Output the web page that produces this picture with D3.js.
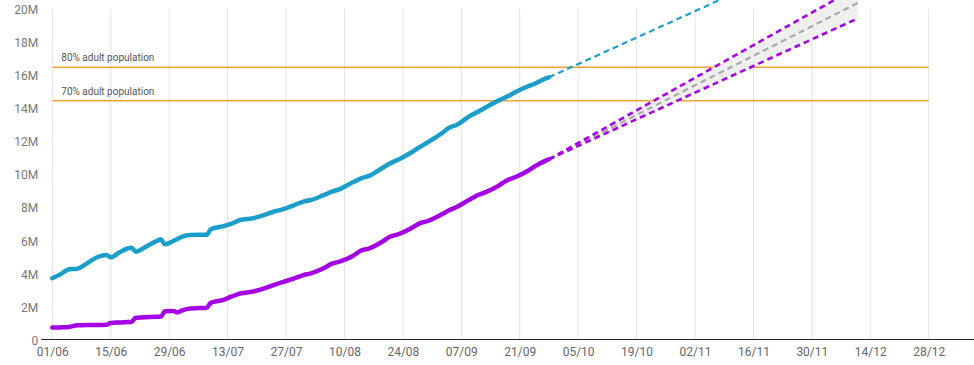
<!DOCTYPE html>
<html>
<head>
<meta charset="utf-8">
<script src="https://cdn.jsdelivr.net/npm/d3@7"></script>
<style>
  html, body { margin: 0; padding: 0; background: #fff; }
  svg { display: block; font-family: Roboto, "Noto Sans", sans-serif; }
</style>
</head>
<body>
<div id="chart"></div>
<script>
// days counted from the first date
const startDate = '2021-06-01';
const dayOffsets = [0, 2, 4, 6, 8, 11, 13, 14, 16, 18, 19, 20, 22, 25, 26, 27, 29, 30, 31, 33,
  35, 37, 38, 41, 43, 45, 48, 51, 53, 55, 58, 60, 62, 65, 67, 69, 72, 74, 76, 79,
  81, 83, 86, 88, 90, 93, 95, 97, 100, 102, 104, 107, 109, 111, 114, 116, 118, 119];

// millions of people
const firstDose = [3.70, 3.95, 4.25, 4.28, 4.55, 5.00, 5.10, 4.97, 5.25, 5.50, 5.55, 5.30, 5.55, 5.95, 6.05, 5.75, 5.95, 6.08, 6.20, 6.32,
  6.33, 6.33, 6.66, 6.85, 7.00, 7.22, 7.32, 7.55, 7.72, 7.85, 8.12, 8.32, 8.43, 8.72, 8.93, 9.10, 9.50, 9.74, 9.90, 10.35,
  10.65, 10.88, 11.30, 11.62, 11.92, 12.40, 12.78, 12.98, 13.50, 13.76, 14.05, 14.45, 14.68, 14.95, 15.30, 15.50, 15.75, 15.84];
const secondDose = [0.72, 0.73, 0.76, 0.86, 0.87, 0.88, 0.89, 1.00, 1.03, 1.05, 1.06, 1.32, 1.34, 1.37, 1.38, 1.70, 1.72, 1.64, 1.75, 1.88,
  1.90, 1.92, 2.22, 2.40, 2.60, 2.78, 2.89, 3.10, 3.28, 3.45, 3.70, 3.88, 4.00, 4.30, 4.58, 4.72, 5.05, 5.38, 5.51, 5.90,
  6.22, 6.37, 6.72, 7.02, 7.16, 7.52, 7.80, 8.02, 8.45, 8.73, 8.92, 9.30, 9.62, 9.82, 10.20, 10.52, 10.78, 10.89];

// projections run from the last reading to this date
const projEndDate = '2021-12-11';
const firstDoseProjEnd = 24.3;
const secondDoseProjEnd = { high: 21.3, mid: 20.33, low: 19.4 };

const targets = [
  { label: '80% adult population', value: 16.45 },
  { label: '70% adult population', value: 14.43 },
];

const xTicks = ['2021-06-01', '2021-06-15', '2021-06-29', '2021-07-13', '2021-07-27', '2021-08-10',
  '2021-08-24', '2021-09-07', '2021-09-21', '2021-10-05', '2021-10-19', '2021-11-02',
  '2021-11-16', '2021-11-30', '2021-12-14', '2021-12-28'];
const yTicks = [0, 2, 4, 6, 8, 10, 12, 14, 16, 18, 20];

const width = 974;
const height = 365;
const margin = { left: 52.3, top: 8.5, right: 45.3, bottom: 25.5 };
const blue = '#1b9fca';
const purple = '#a404e4';
const orange = '#f2a23c';

const parse = d3.utcParse('%Y-%m-%d');
const start = parse(startDate);
const dates = dayOffsets.map(d => d3.utcDay.offset(start, d));
const first = dates.map((d, i) => ({ date: d, value: firstDose[i] }));
const second = dates.map((d, i) => ({ date: d, value: secondDose[i] }));
const lastDate = dates[dates.length - 1];
const endDate = parse(projEndDate);

const x = d3.scaleUtc()
  .domain([parse(xTicks[0]), parse(xTicks[xTicks.length - 1])])
  .range([margin.left, width - margin.right]);
const y = d3.scaleLinear()
  .domain([0, 20])
  .range([height - margin.bottom, margin.top]);

const svg = d3.select('#chart')
  .append('svg')
  .attr('width', width)
  .attr('height', height);

// vertical grid
svg.append('g')
  .selectAll('line')
  .data(xTicks)
  .join('line')
  .attr('x1', d => x(parse(d)))
  .attr('x2', d => x(parse(d)))
  .attr('y1', y(20))
  .attr('y2', y(0))
  .attr('stroke', '#e3e3e3')
  .attr('stroke-width', 1);

// target lines
const tg = svg.append('g')
  .selectAll('g')
  .data(targets)
  .join('g');

tg.append('line')
  .attr('x1', x.range()[0])
  .attr('x2', x.range()[1])
  .attr('y1', d => y(d.value))
  .attr('y2', d => y(d.value))
  .attr('stroke', orange)
  .attr('stroke-width', 1.4);

tg.append('text')
  .attr('x', x.range()[0] + 9)
  .attr('y', d => y(d.value) - 6)
  .style('font-size', '10px')
  .style('fill', '#555')
  .text(d => d.label);

// projection band for second dose
const band = d3.area()
  .x(d => x(d.date))
  .y0(d => y(d.low))
  .y1(d => y(d.high));

svg.append('path')
  .datum([
    { date: lastDate, low: secondDose[secondDose.length - 1], high: secondDose[secondDose.length - 1] },
    { date: endDate, low: secondDoseProjEnd.low, high: secondDoseProjEnd.high },
  ])
  .attr('d', band)
  .attr('fill', '#efefef');

const line = d3.line()
  .x(d => x(d.date))
  .y(d => y(d.value));

function projection(from, to, col, w) {
  svg.append('path')
    .datum([{ date: lastDate, value: from }, { date: endDate, value: to }])
    .attr('d', line)
    .attr('fill', 'none')
    .attr('stroke', col)
    .attr('stroke-width', w)
    .attr('stroke-dasharray', '6,4');
}

projection(secondDose[secondDose.length - 1], secondDoseProjEnd.mid, '#aaaaaa', 2.2);
projection(secondDose[secondDose.length - 1], secondDoseProjEnd.high, purple, 2.6);
projection(secondDose[secondDose.length - 1], secondDoseProjEnd.low, purple, 2.6);
projection(firstDose[firstDose.length - 1], firstDoseProjEnd, blue, 2.2);

// actual data
[[first, blue], [second, purple]].forEach(([data, col]) => {
  svg.append('path')
    .datum(data)
    .attr('d', line.curve(d3.curveMonotoneX))
    .attr('fill', 'none')
    .attr('stroke', col)
    .attr('stroke-width', 4.5)
    .attr('stroke-linejoin', 'round')
    .attr('stroke-linecap', 'round');
  line.curve(d3.curveLinear);
});

// axes
const xAxis = svg.append('g')
  .attr('transform', `translate(0,${y(0)})`)
  .call(d3.axisBottom(x)
    .tickValues(xTicks.map(parse))
    .tickFormat(d3.utcFormat('%d/%m'))
    .tickSize(0)
    .tickPadding(8));
xAxis.select('.domain').remove();
xAxis.selectAll('text')
  .style('font-size', '12px')
  .style('fill', '#666')
  .style('font-family', 'Roboto, sans-serif');

svg.append('line')
  .attr('x1', x.range()[0] - 11)
  .attr('x2', width)
  .attr('y1', y(0))
  .attr('y2', y(0))
  .attr('stroke', '#222')
  .attr('stroke-width', 1.2);

const yAxis = svg.append('g')
  .attr('transform', `translate(${x.range()[0]},0)`)
  .call(d3.axisLeft(y)
    .tickValues(yTicks)
    .tickFormat(d => d === 0 ? '0' : `${d}M`)
    .tickSize(0)
    .tickPadding(14));
yAxis.select('.domain').remove();
yAxis.selectAll('text')
  .attr('dy', '0.4em')
  .style('font-size', '12px')
  .style('fill', '#777')
  .style('font-family', 'Roboto, sans-serif');
</script>
</body>
</html>
